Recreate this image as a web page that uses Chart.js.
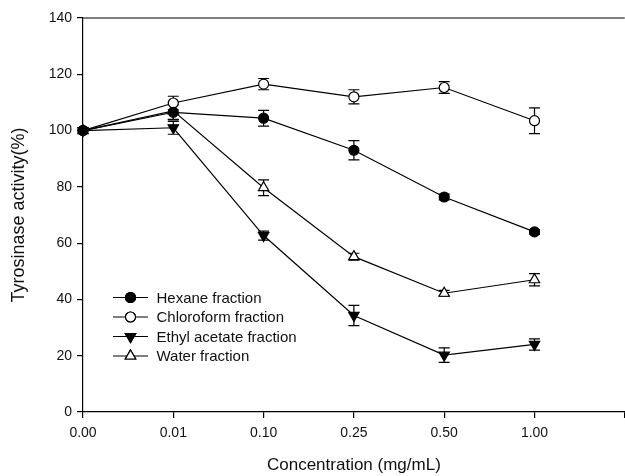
<!DOCTYPE html>
<html>
<head>
<meta charset="utf-8">
<script src="https://cdn.jsdelivr.net/npm/chart.js@4.4.1/dist/chart.umd.min.js"></script>
<style>
  html, body { margin: 0; padding: 0; background: #fff; overflow: hidden; }
  #wrap { width: 632px; height: 476px; }
</style>
</head>
<body>
<div id="wrap"><canvas id="dataChart" width="632" height="476"></canvas></div>
<script>
// concentrations (mg/mL) - last empty slot keeps the axis running past 1.00
const concLabels = ['0.00', '0.01', '0.10', '0.25', '0.50', '1.00', ''];

// tyrosinase activity (%) per fraction, with +/- error
const hexane = [100, 106.5, 104.4, 93.0, 76.4, 64.0];
const hexaneErr = [0, 2.7, 2.8, 3.4, 1.0, 0.8];
const chloroform = [100, 109.8, 116.5, 112.0, 115.3, 103.5];
const chloroformErr = [0, 2.4, 2.0, 2.5, 2.1, 4.6];
const ethylAcetate = [100, 101.0, 62.7, 34.3, 20.2, 24.0];
const ethylAcetateErr = [0, 2.3, 1.6, 3.6, 2.6, 2.0];
const water = [100, 107.0, 79.7, 55.2, 42.2, 47.0];
const waterErr = [0, 3.0, 2.8, 1.2, 1.0, 2.2];

const yTicks = [0, 20, 40, 60, 80, 100, 120, 140];

const FONT = "'Liberation Sans', Arial, sans-serif";

function series(label, values, errors, style, rotation, fill, radius) {
    return {
        label: label,
        data: values,
        errors: errors,
        borderColor: '#000',
        borderWidth: 1.2,
        pointStyle: style,
        pointRotation: rotation,
        pointRadius: radius,
        pointHoverRadius: radius,
        pointBorderWidth: 1.2,
        pointBorderColor: '#000',
        pointBackgroundColor: fill,
        fill: false,
        tension: 0
    };
}

// error bars with caps, drawn under the markers
const errorBars = {
    id: 'errorBars',
    beforeDatasetsDraw(chart) {
        const ctx = chart.ctx;
        const y = chart.scales.y;
        ctx.save();
        ctx.strokeStyle = '#000';
        ctx.lineWidth = 1.2;
        chart.data.datasets.forEach((ds, i) => {
            const meta = chart.getDatasetMeta(i);
            ds.data.forEach((v, j) => {
                const e = ds.errors[j];
                if (!e) return;
                const px = meta.data[j].x;
                const top = y.getPixelForValue(v + e);
                const bot = y.getPixelForValue(v - e);
                ctx.beginPath();
                ctx.moveTo(px, top); ctx.lineTo(px, bot);
                ctx.moveTo(px - 5.5, top); ctx.lineTo(px + 5.5, top);
                ctx.moveTo(px - 5.5, bot); ctx.lineTo(px + 5.5, bot);
                ctx.stroke();
            });
        });
        ctx.restore();
    }
};

// top frame line + legend inside the plot
const frameAndLegend = {
    id: 'frameAndLegend',
    afterDraw(chart) {
        const ctx = chart.ctx;
        const a = chart.chartArea;
        ctx.save();
        ctx.strokeStyle = '#000';
        ctx.lineWidth = 1.2;
        ctx.beginPath();
        ctx.moveTo(a.left, a.top);
        ctx.lineTo(a.right, a.top);
        ctx.stroke();

        ctx.font = '15px ' + FONT;
        ctx.textBaseline = 'middle';
        ctx.fillStyle = '#111';
        chart.data.datasets.forEach((ds, i) => {
            const ly = 297.5 + i * 19.5;
            ctx.strokeStyle = '#000';
            ctx.lineWidth = 1.2;
            ctx.beginPath();
            ctx.moveTo(113, ly);
            ctx.lineTo(148, ly);
            ctx.stroke();
            ctx.fillStyle = ds.pointBackgroundColor;
            Chart.helpers.drawPoint(ctx, {
                pointStyle: ds.pointStyle,
                rotation: ds.pointRotation,
                radius: ds.pointRadius,
                borderWidth: 1.2
            }, 130.5, ly);
            ctx.fill();
            ctx.stroke();
            ctx.fillStyle = '#111';
            ctx.fillText(ds.label, 156.5, ly + 1);
        });
        ctx.restore();
    }
};

const ctx = document.getElementById('dataChart').getContext('2d');
const dataChart = new Chart(ctx, {
    type: 'line',
    data: {
        labels: concLabels,
        datasets: [
            series('Hexane fraction', hexane, hexaneErr, 'circle', 0, '#000', 5),
            series('Chloroform fraction', chloroform, chloroformErr, 'circle', 0, '#fff', 5),
            series('Ethyl acetate fraction', ethylAcetate, ethylAcetateErr, 'triangle', 180, '#000', 6),
            series('Water fraction', water, waterErr, 'triangle', 0, '#fff', 6)
        ]
    },
    options: {
        responsive: false,
        animation: false,
        layout: { padding: { top: 18, right: 1, bottom: 0, left: 0 } },
        plugins: {
            legend: { display: false },
            tooltip: { enabled: false }
        },
        scales: {
            x: {
                type: 'category',
                offset: false,
                grid: { drawOnChartArea: false, drawTicks: true, tickLength: 6, color: '#000', lineWidth: 1.2 },
                border: { display: true, color: '#000', width: 1.2 },
                ticks: { color: '#111', font: { family: FONT, size: 14 }, padding: 7, autoSkip: false, maxRotation: 0 },
                title: { display: true, text: 'Concentration (mg/mL)', color: '#111', font: { family: FONT, size: 17 }, padding: { top: 0, bottom: 0 } },
                afterFit(scale) { scale.height = 64; }
            },
            y: {
                min: 0,
                max: 140,
                afterBuildTicks(scale) { scale.ticks = yTicks.map(v => ({ value: v })); },
                grid: { drawOnChartArea: false, drawTicks: true, tickLength: 6, color: '#000', lineWidth: 1.2 },
                border: { display: true, color: '#000', width: 1.2 },
                ticks: { color: '#111', font: { family: FONT, size: 14 }, padding: 5 },
                title: { display: true, text: 'Tyrosinase activity(%)', color: '#111', font: { family: FONT, size: 18 }, padding: { top: 8, bottom: 0 } },
                afterFit(scale) { scale.width = 83; }
            }
        }
    },
    plugins: [errorBars, frameAndLegend]
});
</script>
</body>
</html>
